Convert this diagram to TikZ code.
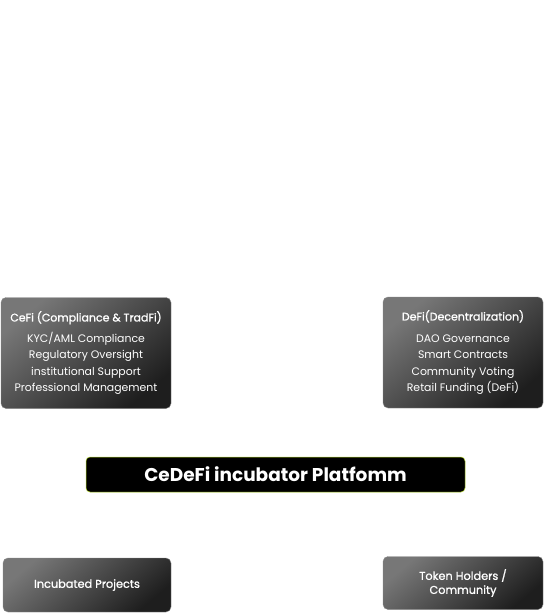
\documentclass[tikz,border=0pt]{standalone}
\usepackage{fontspec}
\setmainfont{Poppins}
\newfontfamily\medfont{Poppins}[FakeBold=1.2]
\definecolor{boxlight}{HTML}{777777}
\definecolor{boxdark}{HTML}{1E1E1E}
\definecolor{edgegreen}{HTML}{B5D82A}
\begin{document}
\begin{tikzpicture}[x=1pt,y=-1pt,
  panel/.style={rounded corners=5pt, draw=white!55!black, line width=0.4pt,
    top color=boxlight, bottom color=boxdark, shading angle=40,
    text=white, align=center, inner sep=0pt},
  bodytext/.style={font=\fontsize{10.9}{16.6}\selectfont},
  titletext/.style={font=\medfont\fontsize{11.3}{16.5}\selectfont},
  mainbox/.style={rounded corners=4pt, fill=black, draw=edgegreen, line width=0.5pt,
    text=white, inner sep=0pt, font=\bfseries\fontsize{18.5}{20}\selectfont}
]
\useasboundingbox (0,0) rectangle (544,613);
\fill[white] (0,0) rectangle (544,613);

\node[panel, minimum width=170pt, minimum height=111pt, bodytext] (cefi) at (86,353)
  {{\medfont\fontsize{11}{16.6}\selectfont CeFi (Compliance \& TradFi)}\\[4pt]
   KYC/AML Compliance\\ Regulatory Oversight\\ institutional Support\\ Professional Management};

\node[panel, minimum width=160pt, minimum height=111pt, bodytext] (defi) at (463,352.5)
  {{\medfont\fontsize{11}{16.6}\selectfont DeFi(Decentralization)}\\[5pt]
   DAO Governance\\ Smart Contracts\\ Community Voting\\ Retail Funding (DeFi)};

\node[mainbox, minimum width=379pt, minimum height=35pt] (core) at (275.5,474.5)
  {CeDeFi incubator Platfomm};

\node[panel, minimum width=168pt, minimum height=54pt, titletext] (proj) at (87,585)
  {Incubated Projects};

\node[panel, minimum width=160pt, minimum height=53pt, titletext,
  font=\medfont\fontsize{11.3}{14}\selectfont] (holders) at (463,583)
  {Token Holders /\\ Community};
\end{tikzpicture}
\end{document}
